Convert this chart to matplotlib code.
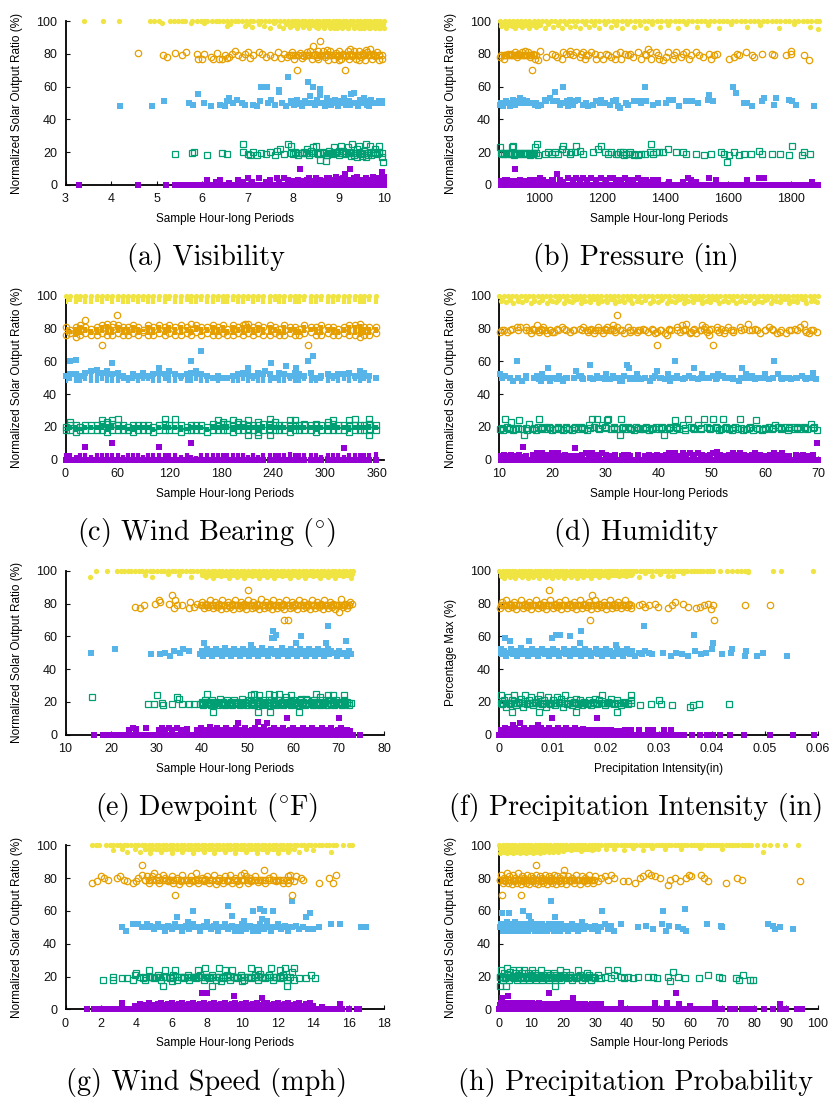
import matplotlib
matplotlib.use('Agg')
import matplotlib.pyplot as plt

plt.rcParams['font.family'] = ['Liberation Sans', 'DejaVu Sans']
plt.rcParams['mathtext.fontset'] = 'cm'

PURPLE = '#9400d3'
GREEN = '#009e73'
BLUE = '#56b4e9'
ORANGE = '#e69f00'
YELLOW = '#f0e442'

# typical centre of each band where the readings pile up
BAND_Y = {'purple': 2.5, 'green': 19.5, 'blue': 50, 'orange': 79, 'yellow': 97.5}

# ---------------- (a) Visibility ----------------
a_yellow_top_x = [3.40, 3.83, 4.18, 4.86, 4.95, 5.06, 5.30, 5.38, 5.47, 5.56, 5.62, 5.78, 5.88, 5.97, 6.04,
                  6.12, 6.21, 6.30, 6.38, 6.47, 6.55, 6.63, 6.72, 6.80, 6.88, 6.97, 7.05, 7.13, 7.22, 7.30,
                  7.38, 7.47, 7.55, 7.63, 7.72, 7.80, 7.88, 7.97, 8.05, 8.12, 8.20, 8.27, 8.35, 8.42, 8.50,
                  8.57, 8.65, 8.72, 8.80, 8.87, 8.95, 9.02, 9.10, 9.17, 9.25, 9.32, 9.40, 9.47, 9.55, 9.62,
                  9.70, 9.77, 9.85, 9.92, 10.0]
a_band_x = [7.96, 8.04, 8.12, 8.2, 8.28, 8.36, 8.44, 8.52, 8.6, 8.68, 8.76, 8.84, 8.92, 9.0, 9.08, 9.16,
            9.24, 9.32, 9.4, 9.48, 9.56, 9.64, 9.72, 9.8, 9.88, 9.96]
a_yellow = [(5.12, 99), (5.75, 99), (6.05, 98.5), (6.55, 97), (6.62, 98), (6.95, 97), (7.0, 98), (7.1, 96.5),
            (7.25, 98), (7.36, 97), (7.5, 96), (7.58, 98.5), (7.7, 97), (7.78, 96), (7.85, 98), (7.93, 96.5),
            (8.0, 97.5), (8.08, 95.5), (8.15, 98), (8.22, 96.5), (8.3, 97.5), (8.36, 95.5), (8.43, 98),
            (8.5, 96.5), (8.55, 95.5), (8.62, 97.5), (8.68, 96), (8.75, 98), (8.82, 95.5), (8.9, 97),
            (8.97, 96), (9.03, 98), (9.08, 95.5), (9.14, 97), (9.2, 96), (9.27, 98), (9.33, 95.5), (9.38, 97),
            (9.44, 96), (9.5, 98), (9.56, 95.5), (9.62, 97), (9.68, 96), (9.74, 98), (9.8, 95.5), (9.86, 97),
            (9.92, 96), (9.97, 98), (10.0, 95.5), (9.9, 95.5), (9.7, 95.5), (9.5, 95.5), (9.2, 95.5), (8.9, 96)]
a_orange = [(4.6, 80.5), (5.15, 79), (5.22, 78), (5.4, 80.5), (5.55, 79), (5.65, 81), (5.9, 80), (5.92, 77),
            (6.0, 77), (6.05, 80), (6.2, 78), (6.25, 77), (6.32, 80.5), (6.38, 77), (6.45, 77), (6.5, 79),
            (6.55, 77.5), (6.6, 78), (6.65, 80), (6.72, 81.5), (6.8, 79), (6.88, 78), (6.95, 80), (7.02, 81),
            (7.05, 77.5), (7.12, 79), (7.25, 81), (7.32, 80), (7.4, 78), (7.5, 79), (7.58, 78), (7.68, 81),
            (7.74, 77.5), (7.8, 80), (7.86, 78), (7.92, 79.5), (7.98, 81), (8.02, 77), (8.08, 70), (8.1, 79),
            (8.15, 80.5), (8.2, 77.5), (8.25, 78.5), (8.3, 81), (8.33, 79), (8.38, 82), (8.42, 77), (8.45, 85),
            (8.48, 80), (8.52, 78), (8.56, 77), (8.6, 88), (8.62, 79.5), (8.66, 81.5), (8.7, 78), (8.74, 80),
            (8.78, 76.5), (8.82, 82), (8.86, 79), (8.9, 77), (8.94, 80.5), (8.98, 78.5), (9.02, 81.5),
            (9.06, 77), (9.1, 80), (9.14, 70), (9.16, 78.5), (9.2, 82), (9.23, 77), (9.27, 80), (9.3, 78.5),
            (9.34, 81.5), (9.38, 77), (9.42, 79.5), (9.46, 82), (9.5, 78), (9.54, 80.5), (9.58, 76.5),
            (9.62, 81), (9.66, 79), (9.7, 83), (9.73, 77), (9.76, 80), (9.8, 78.5), (9.84, 81), (9.88, 79),
            (9.9, 76), (9.95, 77), (8.0, 79), (8.55, 82), (9.0, 76.5), (9.45, 76), (9.6, 82.5), (8.75, 82.5),
            (9.25, 83)]
a_blue = [(4.2, 48), (4.9, 48), (5.17, 51), (5.72, 50), (5.8, 48.5), (5.92, 55.5), (6.05, 50), (6.2, 48),
          (6.4, 49), (6.5, 48), (6.55, 51), (6.6, 53), (6.68, 50), (6.78, 52), (6.88, 50), (6.95, 49),
          (7.12, 49), (7.2, 48), (7.28, 51), (7.3, 60), (7.42, 59.5), (7.45, 50), (7.52, 52), (7.6, 49),
          (7.7, 58), (7.7, 56.5), (7.76, 50), (7.84, 48), (7.9, 66), (7.95, 51), (8.02, 49), (8.08, 52),
          (8.15, 50), (8.2, 48), (8.26, 51), (8.34, 63), (8.38, 54), (8.44, 60), (8.48, 49), (8.52, 52),
          (8.6, 58.5), (8.6, 55), (8.64, 50), (8.7, 48), (8.74, 53), (8.79, 51), (8.84, 49), (8.88, 50.5),
          (8.93, 52), (8.98, 48), (9.03, 51), (9.08, 50), (9.12, 53), (9.17, 49), (9.22, 51), (9.28, 55.5),
          (9.35, 56), (9.38, 50), (9.43, 48), (9.48, 52), (9.53, 50), (9.58, 51), (9.63, 49), (9.68, 48),
          (9.72, 52), (9.88, 51), (9.95, 51), (8.1, 49.5), (8.55, 50), (9.0, 50), (9.25, 48.5), (9.55, 53)]
a_green = [(5.4, 19), (5.78, 19.5), (5.82, 20), (6.1, 18.5), (6.45, 19.5), (6.55, 19), (6.9, 25), (6.9, 20),
           (7.0, 19), (7.05, 18), (7.12, 20), (7.2, 18.5), (7.3, 19.5), (7.4, 19), (7.5, 20), (7.6, 18),
           (7.65, 21), (7.72, 22), (7.8, 19), (7.88, 25), (7.95, 24), (8.0, 19), (8.05, 20), (8.1, 18.5),
           (8.2, 19.5), (8.25, 20), (8.3, 22), (8.35, 18), (8.4, 21), (8.45, 23), (8.5, 24), (8.55, 19),
           (8.6, 15), (8.65, 20), (8.72, 14.5), (8.75, 18), (8.8, 21), (8.85, 19), (8.9, 23), (8.95, 20),
           (9.0, 18), (9.05, 24), (9.1, 21), (9.15, 19), (9.2, 23), (9.25, 20), (9.3, 25), (9.35, 18),
           (9.4, 22), (9.45, 24), (9.5, 19), (9.55, 21), (9.6, 25), (9.65, 18), (9.7, 24), (9.75, 20),
           (9.8, 22), (9.85, 19), (9.9, 24), (9.95, 17), (9.98, 14), (9.4, 17), (9.6, 17), (9.02, 20.5),
           (9.28, 17.5), (9.52, 17.5), (9.72, 18.5), (9.88, 20)]
a_purple_zero_x = [3.3, 4.6, 5.2, 5.4, 5.48, 5.56, 5.64, 5.72, 5.8, 5.88, 5.96, 6.04, 6.12, 6.2, 6.28, 6.36,
                   6.44, 6.52, 6.6, 6.68, 6.76, 6.84, 6.92, 7.0, 7.08, 7.16, 7.24, 7.32, 7.4, 7.48, 7.56, 7.64,
                   7.72, 7.8, 7.88, 7.96, 8.04, 8.12, 8.2, 8.28, 8.36, 8.44, 8.52, 8.6, 8.68, 8.76, 8.84, 8.92,
                   9.0, 9.08, 9.16, 9.24, 9.32, 9.4, 9.48, 9.56, 9.64, 9.72, 9.8, 9.88, 9.96, 10.0]
a_purple = [(6.1, 3), (6.3, 2), (6.4, 3), (6.6, 1.5), (6.8, 3), (6.9, 2), (7.0, 4), (7.1, 2), (7.25, 4),
            (7.4, 2), (7.5, 3), (7.65, 4), (7.7, 2), (7.8, 4), (7.9, 3), (8.0, 2), (8.1, 3), (8.15, 10),
            (8.3, 3), (8.35, 4), (8.4, 1.5), (8.45, 2), (8.5, 4), (8.6, 3), (8.7, 2), (8.8, 4), (8.85, 3),
            (8.9, 1.5), (8.95, 5), (9.0, 2), (9.1, 4), (9.15, 7), (9.2, 3), (9.25, 10), (9.3, 2), (9.35, 4),
            (9.4, 5), (9.45, 1.5), (9.5, 3), (9.55, 2), (9.6, 4), (9.7, 3), (9.75, 5), (9.8, 2), (9.85, 4),
            (9.9, 3), (9.95, 8), (9.96, 7), (10, 5), (10, 2), (8.55, 2.5), (8.75, 4.5), (9.05, 3.5),
            (9.65, 1.5), (9.92, 1.5)]

# ---------------- (b) Pressure ----------------
b_yellow_top_x = [877, 892, 905, 918, 930, 943, 957, 970, 983, 996, 1010, 1024, 1038, 1052, 1066, 1080, 1094,
                  1108, 1122, 1136, 1150, 1164, 1178, 1192, 1206, 1220, 1234, 1248, 1262, 1276, 1290, 1304,
                  1318, 1332, 1346, 1360, 1374, 1388, 1402, 1416, 1430, 1444, 1458, 1472, 1486, 1500, 1514,
                  1528, 1542, 1556, 1570, 1584, 1598, 1612, 1626, 1640, 1654, 1668, 1682, 1696, 1710, 1724,
                  1738, 1752, 1766, 1780, 1794, 1808, 1822, 1836, 1850, 1864, 1878, 1888]
b_band_x = [880, 888, 896, 904, 912, 920, 928, 936, 944, 952, 960, 968, 976, 984, 992]
b_yellow = [(880, 97), (888, 99), (897, 96), (905, 98), (915, 97), (925, 95.5), (935, 98), (945, 96.5),
            (955, 97.5), (968, 96), (980, 98), (992, 96.5), (1005, 97.5), (1018, 96), (1030, 98), (1045, 96.5),
            (1060, 97.5), (1072, 96), (1085, 98), (1100, 96.5), (1115, 97), (1130, 96), (1145, 98),
            (1160, 96.5), (1175, 97.5), (1192, 96), (1210, 98), (1228, 96.5), (1245, 97.5), (1262, 96),
            (1280, 98), (1300, 96.5), (1320, 97.5), (1340, 96), (1360, 98), (1385, 96.5), (1410, 97.5),
            (1440, 96), (1465, 98), (1500, 96.5), (1535, 97.5), (1570, 96), (1610, 98), (1660, 96.5),
            (1700, 97.5), (1760, 96), (1810, 98), (1860, 96.5), (1885, 95)]
b_orange = [(877, 78), (893, 79), (903, 80), (914, 79), (924, 81), (935, 80), (945, 81), (956, 82), (961, 79),
            (972, 78), (977, 70), (982, 80), (987, 77), (998, 76), (1003, 82), (1024, 78), (1040, 80),
            (1051, 79), (1056, 78), (1072, 77), (1077, 81), (1087, 80), (1098, 82), (1108, 79), (1119, 81),
            (1129, 78), (1135, 80), (1145, 77), (1156, 79), (1166, 81), (1177, 80), (1182, 77), (1193, 79),
            (1203, 77), (1214, 80), (1219, 79), (1229, 78), (1240, 77), (1245, 80), (1256, 81), (1261, 77),
            (1272, 80), (1282, 79), (1298, 78), (1314, 81), (1324, 77), (1335, 80), (1345, 83), (1351, 81),
            (1356, 77), (1372, 81), (1377, 79), (1382, 77), (1393, 76), (1403, 78), (1408, 81), (1424, 77),
            (1429, 79), (1435, 81), (1451, 78), (1456, 80), (1466, 81), (1477, 77), (1482, 79), (1498, 81),
            (1508, 79), (1519, 78), (1540, 80), (1545, 77), (1556, 79), (1566, 80), (1603, 77), (1619, 78),
            (1629, 80), (1635, 79), (1656, 81), (1677, 79), (1682, 78), (1708, 80), (1740, 80), (1745, 79),
            (1782, 79), (1798, 80), (1798, 82), (1840, 79), (1856, 76), (890, 77), (910, 80), (930, 78),
            (950, 79), (965, 81), (1100, 80), (1140, 81), (1150, 79), (1290, 80), (1340, 79)]
b_blue = [(877, 49), (887, 48), (896, 51), (903, 50), (908, 48), (919, 52), (924, 49), (929, 50), (940, 53),
          (961, 51), (972, 50), (987, 49), (998, 48), (1008, 49), (1019, 52), (1024, 51), (1035, 53),
          (1045, 51), (1051, 57), (1056, 51), (1066, 49), (1077, 60), (1077, 50), (1093, 48), (1098, 52),
          (1108, 49), (1114, 51), (1124, 52), (1140, 49), (1156, 48), (1172, 49), (1182, 51), (1193, 50),
          (1198, 52), (1208, 50), (1224, 49), (1235, 51), (1245, 52), (1251, 48), (1256, 47), (1277, 50),
          (1282, 49), (1303, 51), (1319, 51), (1324, 50), (1335, 60), (1340, 51), (1361, 49), (1377, 50),
          (1403, 50), (1414, 52), (1424, 52), (1445, 48), (1466, 51), (1487, 51), (1503, 50), (1535, 52),
          (1540, 55), (1551, 51), (1614, 60), (1624, 56), (1651, 50), (1661, 50), (1677, 48), (1708, 51),
          (1714, 53), (1745, 49), (1751, 53), (1793, 52), (1803, 51), (1814, 49), (1872, 48), (890, 50),
          (912, 49), (935, 51), (950, 52), (1090, 51), (1150, 50)]
b_green = [(877, 23), (882, 19), (903, 19), (914, 23), (919, 24), (929, 19), (940, 19), (951, 19), (972, 18),
           (982, 19), (987, 23), (993, 25), (998, 18), (1019, 19), (1029, 20), (1040, 19), (1051, 20),
           (1061, 19), (1072, 22), (1077, 24), (1087, 20), (1098, 19), (1103, 20), (1114, 20), (1119, 24),
           (1129, 21), (1140, 19), (1172, 20), (1187, 22), (1198, 24), (1208, 20), (1219, 19), (1229, 20),
           (1245, 19), (1256, 20), (1266, 20), (1277, 19), (1287, 19), (1303, 19), (1314, 18), (1324, 19),
           (1335, 19), (1351, 20), (1356, 25), (1361, 19), (1372, 20), (1382, 20), (1393, 20), (1408, 22),
           (1435, 20), (1456, 20), (1466, 19), (1498, 19), (1524, 18), (1545, 19), (1577, 20), (1587, 19),
           (1598, 14), (1603, 18), (1619, 20), (1635, 18), (1651, 19), (1672, 19), (1698, 21), (1708, 19),
           (1740, 19), (1766, 19), (1793, 18), (1803, 24), (1835, 18), (1840, 20), (1861, 19), (890, 19),
           (910, 19), (920, 18), (960, 19), (1250, 19), (1270, 18), (1290, 20), (1300, 18)]
b_purple_zero_x = [880, 894, 908, 922, 936, 950, 964, 978, 992, 1006, 1020, 1034, 1048, 1062, 1076, 1090, 1104,
                   1118, 1132, 1146, 1160, 1174, 1188, 1202, 1216, 1230, 1244, 1258, 1272, 1286, 1300, 1314,
                   1328, 1342, 1356, 1370, 1384, 1398, 1412, 1426, 1440, 1454, 1468, 1482, 1496, 1510, 1524,
                   1538, 1552, 1566, 1580, 1594, 1608, 1622, 1636, 1650, 1664, 1678, 1692, 1706, 1720, 1734,
                   1748, 1762, 1776, 1790, 1804, 1818, 1832, 1846, 1860, 1874, 1886]
b_purple = [(882, 2), (893, 3), (908, 2), (924, 10), (929, 2), (940, 3), (956, 2), (972, 3), (987, 3),
            (1003, 4), (1014, 3), (1024, 2), (1040, 3), (1045, 3), (1056, 7), (1066, 3), (1077, 2), (1093, 4),
            (1108, 3), (1119, 4), (1129, 3), (1140, 4), (1151, 3), (1166, 4), (1182, 3), (1198, 4), (1214, 3),
            (1224, 4), (1235, 4), (1245, 3), (1256, 3), (1272, 4), (1282, 3), (1298, 3), (1314, 4), (1324, 3),
            (1340, 3), (1351, 2), (1361, 3), (1377, 3), (1414, 2), (1456, 2), (1472, 4), (1482, 3), (1498, 2),
            (1540, 4), (1561, 3), (1661, 3), (1698, 4), (1714, 4), (1866, 2), (890, 1.5), (900, 3),
            (915, 1.5), (950, 1.5), (1000, 1.5), (1260, 1.5)]

# ---------------- (c) Wind Bearing: readings fall in bearing columns ----------------
c_cols = [1, 5, 12, 17, 23, 29, 36, 42, 48, 54,
          61, 67, 72, 78, 84, 90, 95, 101, 108, 115,
          120, 126, 134, 140, 145, 151, 157, 163, 170, 176,
          182, 187, 193, 199, 205, 211, 217, 222, 228, 236,
          242, 247, 253, 259, 265, 270, 276, 284, 290, 295,
          303, 309, 315, 322, 328, 334, 340, 345, 351, 359]
c_yellow_lo = [95, 96, 95, 96, 95, 95, 96, 95, 97, 95,
               96, 95, 95, 96, 95, 96, 95, 95, 96, 95,
               97, 95, 95, 96, 95, 95, 96, 95, 95, 96,
               95, 95, 96, 95, 95, 97, 95, 96, 95, 95,
               96, 95, 95, 96, 95, 95, 96, 95, 95, 96,
               95, 95, 96, 95, 95, 96, 95, 95, 96, 95]
c_orange_lo = [76, 77, 75, 76, 77, 76, 76, 77, 76, 76,
               77, 76, 76, 77, 76, 78, 76, 76, 77, 76,
               77, 76, 76, 77, 76, 78, 76, 77, 76, 76,
               77, 76, 76, 77, 76, 77, 76, 77, 76, 76,
               77, 76, 76, 77, 76, 76, 77, 78, 76, 76,
               77, 76, 76, 77, 76, 76, 75, 76, 76, 77]
c_orange_hi = [81, 79, 81, 82, 81, 80, 81, 82, 83, 81,
               82, 81, 81, 82, 81, 79, 82, 81, 82, 81,
               82, 81, 82, 81, 80, 82, 81, 81, 82, 81,
               82, 80, 82, 81, 82, 83, 81, 82, 81, 82,
               81, 80, 82, 81, 81, 80, 82, 81, 81, 82,
               81, 81, 80, 81, 82, 82, 83, 81, 81, 81]
c_blue_lo = [47, 48, 47, 47, 48, 47, 47, 48, 47, 47,
             47, 48, 47, 48, 47, 48, 48, 47, 47, 48,
             47, 47, 48, 47, 47, 48, 47, 47, 48, 47,
             48, 48, 47, 47, 48, 47, 48, 47, 47, 47,
             48, 47, 47, 48, 47, 47, 48, 47, 47, 48,
             47, 48, 47, 48, 47, 48, 47, 48, 47, 48]
c_blue_hi = [51, 52, 52, 51, 53, 54, 55, 53, 54, 52,
             53, 51, 50, 52, 51, 53, 51, 52, 53, 52,
             54, 52, 51, 52, 53, 54, 52, 51, 50, 51,
             50, 50, 51, 52, 53, 52, 51, 53, 52, 52,
             50, 53, 52, 51, 53, 52, 51, 53, 50, 51,
             52, 51, 52, 52, 53, 51, 54, 53, 51, 50]
c_green_lo = [18, 18, 17, 18, 18, 18, 18, 18, 17, 18,
              18, 18, 18, 17, 18, 18, 18, 17, 18, 18,
              18, 18, 17, 18, 18, 18, 18, 17, 18, 18,
              18, 18, 17, 18, 18, 18, 18, 17, 18, 18,
              18, 18, 18, 17, 18, 18, 18, 18, 17, 18,
              18, 18, 18, 18, 17, 18, 18, 18, 18, 18]
c_green_hi = [20, 21, 21, 20, 21, 21, 21, 22, 22, 22,
              21, 21, 20, 21, 21, 21, 21, 20, 21, 22,
              21, 21, 21, 20, 21, 21, 21, 20, 22, 21,
              22, 22, 21, 22, 22, 21, 21, 21, 22, 22,
              21, 21, 21, 21, 21, 21, 21, 21, 21, 21,
              21, 22, 21, 21, 21, 21, 21, 21, 22, 21]
c_purple_hi = [4, 4, 3, 4, 4, 3, 4, 4, 4, 4,
               4, 3, 4, 4, 4, 3, 4, 4, 4, 4,
               4, 4, 3, 4, 3, 2, 4, 4, 4, 4,
               4, 4, 4, 4, 4, 3, 4, 3, 4, 4,
               4, 4, 4, 5, 4, 4, 4, 4, 4, 3,
               4, 4, 4, 3, 4, 4, 4, 4, 4, 5]
c_orange = [(42, 70), (280, 70), (60, 88), (23, 85), (55, 83), (145, 83), (207, 83)]
c_blue = [(5, 60), (12, 61), (54, 59), (108, 56), (145, 60), (157, 66), (211, 56), (230, 54), (238, 59),
          (255, 57), (266, 56), (280, 60), (286, 63)]
c_green = [(5, 23), (42, 24), (48, 23), (54, 24), (61, 25), (115, 25), (126, 25), (176, 24), (182, 23),
           (187, 22), (193, 24), (199, 23), (205, 22), (211, 24), (222, 23), (236, 25), (242, 23), (259, 24),
           (265, 24), (276, 22), (290, 22), (303, 23), (309, 24), (328, 24), (334, 25), (351, 25), (351, 22),
           (211, 15), (222, 15), (236, 15), (351, 15)]
c_purple = [(23, 8), (54, 10), (108, 8), (145, 10), (322, 7)]

# ---------------- (d) Humidity ----------------
d_yellow_top_x = [10.0, 10.8, 11.6, 12.4, 13.2, 14.0, 14.8, 15.6, 16.4, 17.2, 18.0, 18.8, 19.6, 20.4, 21.2,
                  22.0, 22.8, 23.6, 24.4, 25.2, 26.0, 26.8, 27.6, 28.4, 29.2, 30.0, 30.8, 31.6, 32.4, 33.2,
                  34.0, 34.8, 35.6, 36.4, 37.2, 38.0, 38.8, 39.6, 40.4, 41.2, 42.0, 42.8, 43.6, 44.4, 45.2,
                  46.0, 46.8, 47.6, 48.4, 49.2, 50.0, 50.8, 51.6, 52.4, 53.2, 54.0, 54.8, 55.6, 56.4, 57.2,
                  58.0, 58.8, 59.6, 60.4, 61.2, 62.0, 62.8, 63.6, 64.4, 65.2, 66.0, 66.8, 67.6, 68.4, 69.2,
                  70.0]
d_band_x = [10.5, 12.0, 13.5, 15.0, 16.5, 18.0, 19.5, 21.0, 22.5, 24.0, 25.5, 27.0, 28.5, 30.0, 31.5, 33.0,
            34.5, 36.0, 37.5, 39.0, 40.5, 42.0, 43.5, 45.0, 46.5, 48.0, 49.5, 51.0, 52.5, 54.0, 55.5, 57.0,
            58.5, 60.0, 61.5, 63.0, 64.5, 66.0, 67.5, 69.0]
d_yellow = [(10.3, 97), (11.2, 96), (11.9, 98), (12.6, 95.5), (13.4, 97), (14.3, 96), (15.0, 98),
            (15.9, 95.5), (16.5, 97), (17.4, 96), (18.1, 98), (18.9, 95.5), (19.8, 97), (20.6, 96), (21.3, 98),
            (22.2, 95.5), (23.0, 97), (23.7, 96), (24.6, 98), (25.4, 95.5), (26.1, 97), (27.0, 96), (27.8, 98),
            (28.5, 95.5), (29.4, 97), (30.2, 96), (31.0, 98), (31.8, 95.5), (32.6, 97), (33.5, 96), (34.2, 98),
            (35.0, 95.5), (35.9, 97), (36.6, 96), (37.5, 98), (38.3, 95.5), (39.0, 97), (39.9, 96), (40.7, 98),
            (41.5, 95.5), (42.3, 97), (43.1, 96), (44.0, 98), (44.8, 95.5), (45.6, 97), (46.4, 96), (47.2, 98),
            (48.1, 95.5), (48.9, 97), (49.7, 96), (50.5, 98), (51.3, 95.5), (52.1, 97), (53.0, 96), (53.8, 98),
            (54.6, 95.5), (55.4, 97), (56.2, 96), (57.1, 98), (57.9, 95.5), (58.7, 97), (59.5, 96), (60.4, 98),
            (61.2, 95.5), (62.0, 97), (62.8, 96), (63.7, 98), (64.5, 95.5), (65.3, 97), (66.1, 96), (67.0, 98),
            (67.8, 95.5), (68.6, 97), (69.5, 96.5), (69.8, 96)]
d_orange = [(10.1, 78), (10.8, 79), (11.5, 78), (12.3, 80), (13.3, 81), (13.9, 81), (15.0, 81), (15.5, 79),
            (15.9, 77), (16.4, 80), (17.0, 82), (17.5, 78), (17.8, 80), (18.2, 81), (18.6, 79), (18.9, 77),
            (19.5, 79), (19.8, 78), (20.8, 80), (21.7, 81), (22.2, 80), (23.3, 78), (23.8, 79), (25.2, 80),
            (25.8, 81), (26.4, 79), (26.7, 78), (27.2, 80), (27.8, 77), (28.6, 81), (29.2, 79), (29.9, 80),
            (30.3, 81), (30.8, 79), (31.1, 80), (31.8, 78), (32.1, 88), (32.2, 81), (32.7, 79), (33.4, 77),
            (34.3, 81), (34.6, 78), (35.2, 79), (35.9, 78), (36.5, 79), (37.1, 80), (38.0, 78), (38.7, 80),
            (39.3, 77), (39.7, 70), (39.7, 78), (40.3, 79), (41.2, 77), (41.6, 76), (42.0, 80), (42.4, 79),
            (43.4, 81), (44.0, 78), (44.3, 82), (44.9, 80), (45.2, 83), (46.0, 78), (46.6, 80), (47.0, 77),
            (47.7, 79), (48.2, 82), (48.5, 80), (49.0, 78), (49.5, 76), (49.9, 80), (50.3, 70), (50.9, 81),
            (51.4, 78), (51.8, 80), (52.3, 77), (53.1, 81), (53.7, 79), (54.0, 78), (55.3, 81), (56.0, 80),
            (56.8, 83), (57.5, 79), (58.1, 80), (59.0, 77), (60.0, 79), (60.8, 81), (61.4, 80), (62.2, 77),
            (62.8, 78), (64.0, 77), (65.0, 79), (65.6, 80), (66.6, 81), (67.3, 83), (67.8, 78), (68.3, 77),
            (68.7, 79), (69.8, 78), (17.3, 79), (20.2, 78), (28.0, 79), (29.5, 77), (31.4, 82), (44.6, 79),
            (45.8, 77), (48.8, 81)]
d_blue = [(10.1, 52), (11.1, 51), (12.0, 50), (12.6, 48), (13.3, 60), (14.2, 48), (15.0, 51), (17.0, 51),
          (17.5, 49), (18.0, 52), (18.4, 50), (19.1, 56), (19.5, 48), (20.2, 50), (20.8, 49), (21.3, 51),
          (22.0, 48), (22.7, 50), (24.4, 54), (25.0, 51), (25.8, 49), (27.1, 58), (27.7, 49), (28.3, 51),
          (29.2, 50), (30.1, 52), (30.8, 49), (31.4, 51), (31.9, 50), (32.7, 48), (33.4, 51), (34.0, 58),
          (34.4, 56), (34.5, 49), (35.2, 50), (35.9, 52), (36.6, 49), (37.4, 50), (38.3, 48), (39.3, 51),
          (39.7, 54), (40.3, 50), (41.2, 49), (41.8, 52), (42.6, 50), (43.0, 60), (43.5, 51), (44.6, 49),
          (45.7, 51), (46.6, 56), (47.4, 49), (48.2, 52), (49.1, 50), (50.3, 51), (51.2, 52), (52.1, 51),
          (53.1, 50), (54.0, 49), (55.1, 48), (55.6, 56), (56.5, 52), (57.5, 51), (58.1, 49), (59.0, 50),
          (60.0, 52), (60.8, 49), (61.5, 50), (61.8, 60), (62.5, 52), (64.0, 50), (65.0, 49), (65.9, 50),
          (66.9, 51), (67.8, 49), (69.1, 53), (69.7, 49), (17.8, 48), (21.6, 49), (25.4, 51), (29.8, 49),
          (33.0, 48), (35.6, 49), (38.8, 50), (42.2, 48), (46.2, 50), (50.8, 49), (56.0, 50), (63.2, 49),
          (68.5, 50)]
d_green = [(10.1, 19), (10.6, 18), (11.0, 25), (11.4, 20), (11.8, 19), (12.2, 23), (12.6, 18), (13.0, 19),
           (13.7, 24), (14.2, 19), (14.7, 15), (15.2, 18), (15.6, 22), (16.2, 19), (16.8, 18), (17.5, 25),
           (17.3, 20), (17.9, 19), (18.4, 20), (18.9, 19), (19.4, 20), (19.9, 18), (20.5, 19), (21.0, 20),
           (21.5, 19), (22.0, 18), (22.6, 20), (23.1, 19), (23.6, 18), (24.2, 20), (24.7, 19), (25.3, 20),
           (25.9, 19), (26.4, 18), (26.9, 21), (27.4, 25), (27.8, 20), (28.3, 25), (28.8, 19), (29.3, 21),
           (29.8, 20), (30.3, 24), (30.5, 25), (31.0, 19), (31.5, 20), (32.1, 19), (32.7, 15), (32.9, 25),
           (33.2, 20), (33.7, 19), (34.2, 20), (34.7, 19), (35.3, 18), (35.8, 20), (36.4, 19), (37.0, 19),
           (37.6, 20), (38.2, 18), (38.8, 19), (39.4, 20), (40.0, 19), (40.6, 20), (41.0, 15), (41.5, 19),
           (42.1, 20), (42.7, 18), (43.0, 24), (43.3, 20), (43.9, 19), (44.5, 21), (45.0, 18), (45.5, 25),
           (46.1, 20), (46.7, 19), (47.3, 21), (47.9, 19), (48.6, 25), (49.0, 20), (49.6, 19), (50.3, 25),
           (50.8, 20), (51.3, 18), (51.8, 19), (52.1, 25), (52.6, 20), (53.2, 19), (53.8, 18), (54.4, 20),
           (55.0, 19), (55.4, 25), (55.9, 18), (56.5, 19), (57.1, 20), (57.7, 18), (58.4, 24), (58.9, 19),
           (59.5, 18), (60.1, 19), (60.7, 20), (61.3, 19), (61.9, 21), (62.5, 20), (63.1, 19), (63.7, 20),
           (64.3, 18), (64.9, 20), (65.5, 19), (66.1, 20), (66.7, 19), (67.3, 20), (67.9, 19), (68.6, 22),
           (69.2, 20), (69.8, 18)]
d_purple_zero_x = [10.2, 11.0, 11.8, 12.6, 13.4, 14.2, 15.0, 15.8, 16.6, 17.4, 18.2, 19.0, 19.8, 20.6, 21.4,
                   22.2, 23.0, 23.8, 24.6, 25.4, 26.2, 27.0, 27.8, 28.6, 29.4, 30.2, 31.0, 31.8, 32.6, 33.4,
                   34.2, 35.0, 35.8, 36.6, 37.4, 38.2, 39.0, 39.8, 40.6, 41.4, 42.2, 43.0, 43.8, 44.6, 45.4,
                   46.2, 47.0, 47.8, 48.6, 49.4, 50.2, 51.0, 51.8, 52.6, 53.4, 54.2, 55.0, 55.8, 56.6, 57.4,
                   58.2, 59.0, 59.8, 60.6, 61.4, 62.2, 63.0, 63.8, 64.6, 65.4, 66.2, 67.0, 67.8, 68.6, 69.4,
                   70.0]
d_purple = [(10.2, 2), (10.9, 3), (11.5, 1.5), (12.1, 3), (12.8, 2), (13.6, 3), (14.3, 1.5), (14.5, 8),
            (15.0, 2), (16.4, 3), (17.0, 4), (17.6, 3), (18.1, 4), (18.7, 3), (19.3, 2), (19.9, 4), (20.5, 3),
            (21.1, 4), (21.7, 2), (22.3, 3), (23.0, 2), (24.2, 7), (24.8, 2), (25.6, 3), (26.3, 4), (26.9, 3),
            (27.5, 4), (28.1, 3), (28.8, 2), (29.4, 4), (30.1, 3), (31.0, 2), (31.8, 3), (33.5, 3), (34.2, 3),
            (36.0, 3), (37.4, 2), (38.2, 3), (38.9, 2), (39.6, 3), (41.3, 3), (41.9, 4), (42.5, 3), (43.1, 4),
            (43.8, 2), (44.5, 4), (45.2, 3), (45.9, 4), (46.6, 3), (47.4, 4), (48.1, 3), (48.8, 2), (49.7, 3),
            (50.3, 4), (50.9, 5), (51.6, 3), (52.3, 2), (53.2, 3), (54.0, 4), (54.7, 3), (55.4, 4), (56.1, 3),
            (56.8, 2), (57.5, 3), (58.2, 4), (59.0, 3), (60.0, 2), (61.0, 3), (61.8, 4), (62.5, 3), (63.2, 4),
            (64.2, 2), (65.8, 3), (66.4, 2), (67.1, 3), (68.2, 2), (69.0, 3), (69.8, 10)]

# ---------------- (e) Dewpoint ----------------
e_yellow_top_x = [16.6, 19.2, 21.3, 22.1, 22.9, 23.7, 24.5, 25.3, 26.1, 26.9, 27.7, 28.5, 29.3, 30.1, 30.9,
                  31.7, 32.5, 33.3, 34.1, 34.9, 35.7, 36.5, 37.3, 38.1, 38.9, 39.7, 40.5, 41.3, 42.1, 42.9,
                  43.7, 44.5, 45.3, 46.1, 46.9, 47.7, 48.5, 49.3, 50.1, 50.9, 51.7, 52.5, 53.3, 54.1, 54.9,
                  55.7, 56.5, 57.3, 58.1, 58.9, 59.7, 60.5, 61.3, 62.1, 62.9, 63.7, 64.5, 65.3, 66.1, 66.9,
                  67.7, 68.5, 69.3, 70.1, 70.9, 71.7, 72.5, 73.1]
e_band_x = [40.0, 40.6, 41.2, 41.8, 42.4, 43.0, 43.6, 44.2, 44.8, 45.4, 46.0, 46.6, 47.2, 47.8, 48.4, 49.0,
            49.6, 50.2, 50.8, 51.4, 52.0, 52.6, 53.2, 53.8, 54.4, 55.0, 55.6, 56.2, 56.8, 57.4, 58.0, 58.6,
            59.2, 59.8, 60.4, 61.0, 61.6, 62.2, 62.8, 63.4, 64.0, 64.6, 65.2, 65.8, 66.4, 67.0, 67.6, 68.2,
            68.8, 69.4, 70.0, 70.6, 71.2, 71.8, 72.4]
e_yellow = [(15.4, 96), (27.5, 97.5), (29.0, 96), (32.5, 98), (35.0, 97.5), (37.5, 96), (40.0, 98), (40.8, 96),
            (41.7, 97.5), (42.5, 95.5), (43.4, 98), (44.2, 96.5), (45.0, 97.5), (45.9, 95.5), (46.7, 98),
            (47.6, 96), (48.4, 97.5), (49.2, 95.5), (50.1, 98), (50.9, 96.5), (51.8, 97.5), (52.6, 95.5),
            (53.4, 98), (54.3, 96), (55.1, 97.5), (55.9, 95.5), (56.8, 98), (57.6, 96.5), (58.5, 97.5),
            (59.3, 95.5), (60.1, 98), (61.0, 96), (61.8, 97.5), (62.6, 95.5), (63.5, 98), (64.3, 96.5),
            (65.2, 97.5), (66.0, 95.5), (66.8, 98), (67.7, 96), (68.5, 97.5), (69.3, 95.5), (70.2, 98),
            (71.0, 96.5), (71.9, 97.5), (72.7, 95.5), (73.0, 98)]
e_orange = [(25.3, 78), (26.4, 77), (27.3, 79), (29.7, 80), (30.5, 82), (30.8, 81), (32.7, 80), (33.4, 85),
            (33.8, 77), (34.1, 82), (34.5, 79), (35.6, 79), (37.1, 77), (37.4, 81), (38.2, 78), (38.9, 80),
            (39.7, 79), (40.1, 81), (40.5, 77), (40.9, 80), (41.3, 78), (41.7, 82), (42.1, 79), (42.5, 77),
            (42.9, 81), (43.3, 78), (43.7, 80), (44.1, 76.5), (44.5, 82), (44.9, 79), (45.3, 77), (45.7, 81),
            (46.1, 78), (46.5, 80), (46.9, 76.5), (47.3, 82), (47.7, 79), (48.1, 77), (48.5, 81), (48.9, 78),
            (49.3, 80), (49.7, 76.5), (50.0, 88), (50.1, 82), (50.5, 79), (50.9, 77), (51.3, 81), (51.7, 78),
            (52.1, 80), (52.5, 76.5), (52.9, 83), (53.3, 79), (53.7, 77), (54.1, 81), (54.5, 78), (54.9, 80),
            (55.3, 76.5), (55.7, 82), (56.1, 79), (56.5, 77), (56.9, 81), (57.3, 78), (57.7, 80), (58.0, 70),
            (58.1, 76.5), (58.5, 82), (58.8, 70), (58.9, 79), (59.3, 77), (59.7, 81), (60.1, 78), (60.5, 80),
            (60.9, 76.5), (61.3, 82), (61.7, 79), (62.1, 77), (62.5, 81), (62.9, 78), (63.3, 80), (63.7, 76.5),
            (64.1, 82), (64.5, 79), (64.9, 77), (65.3, 81), (65.7, 78), (66.1, 80), (66.5, 76.5), (66.9, 82),
            (67.3, 79), (67.7, 77), (68.1, 81), (68.5, 78), (68.9, 80), (69.3, 76.5), (69.7, 79), (70.2, 75),
            (70.6, 83), (71.0, 78), (71.4, 80), (71.8, 77), (72.2, 79), (72.6, 81), (73.0, 80)]
e_blue = [(15.6, 50), (20.9, 52), (28.8, 49), (30.8, 49.5), (31.9, 50), (33.0, 48), (33.8, 51), (35.2, 50),
          (35.8, 52), (37.1, 51), (39.5, 49), (39.9, 51), (40.3, 48), (40.5, 56), (40.7, 50), (41.1, 52),
          (41.5, 49), (41.9, 51), (42.3, 48), (42.7, 50), (43.1, 52), (43.5, 49), (43.9, 51), (44.3, 48),
          (44.7, 50), (45.1, 53), (45.5, 49), (45.9, 51), (46.3, 48), (46.7, 50), (47.1, 52), (47.5, 49),
          (47.9, 51), (48.3, 48), (48.7, 50), (49.1, 52), (49.5, 49), (49.9, 51), (50.3, 48), (50.7, 55),
          (50.8, 50), (51.2, 52), (51.6, 49), (52.0, 51), (52.4, 48), (52.8, 50), (53.2, 53), (53.6, 49),
          (54.0, 51), (54.4, 48), (54.8, 50), (55.2, 52), (55.3, 59), (55.5, 63), (55.8, 59), (56.2, 61),
          (56.0, 49), (56.4, 51), (56.8, 48), (57.2, 50), (57.6, 53), (58.0, 49), (58.4, 51), (58.8, 48),
          (59.2, 50), (59.6, 52), (60.0, 49), (60.4, 51), (60.6, 56), (60.8, 48), (61.2, 50), (61.7, 60),
          (61.6, 52), (62.0, 49), (62.4, 51), (62.8, 48), (63.2, 50), (63.6, 52), (64.0, 49), (64.4, 51),
          (64.8, 48), (65.2, 50), (65.6, 52), (66.0, 49), (66.4, 51), (66.8, 48), (67.2, 56), (67.2, 50),
          (67.8, 66), (67.6, 52), (68.0, 49), (68.4, 51), (69.0, 50), (69.6, 48), (70.2, 51), (70.8, 49),
          (71.2, 50), (71.7, 57), (71.8, 48), (72.3, 51), (72.8, 49)]
e_green = [(15.9, 23), (28.2, 19), (29.4, 19), (30.2, 24), (31.2, 19.5), (31.4, 18), (33.4, 19), (34.5, 23),
           (34.9, 22), (35.6, 19), (37.1, 19), (38.2, 19), (39.5, 19), (39.9, 20), (40.3, 18), (40.7, 21),
           (41.1, 25), (41.1, 19), (41.5, 20), (41.9, 18), (42.3, 21), (42.5, 14), (42.7, 19), (43.1, 20),
           (43.5, 18), (43.9, 22), (44.3, 19), (44.7, 20), (45.1, 18), (45.5, 21), (45.9, 19), (46.3, 20),
           (46.7, 18), (47.1, 21), (47.5, 19), (47.9, 20), (48.3, 18), (48.7, 22), (49.1, 19), (49.5, 20),
           (49.9, 18), (50.3, 21), (50.7, 24), (50.7, 19), (51.1, 20), (51.4, 25), (51.5, 18), (51.9, 21),
           (52.3, 14), (52.3, 19), (52.5, 24), (52.7, 20), (53.1, 18), (53.5, 21), (53.9, 19), (54.3, 20),
           (54.7, 25), (54.7, 18), (55.0, 14), (55.1, 21), (55.5, 19), (55.8, 24), (55.9, 20), (56.3, 18),
           (56.9, 25), (56.7, 21), (57.1, 19), (57.5, 20), (57.9, 18), (58.4, 23), (58.3, 21), (58.7, 19),
           (59.1, 20), (59.5, 24), (59.5, 18), (59.9, 21), (60.3, 19), (60.7, 20), (61.1, 18), (61.4, 14),
           (61.5, 21), (61.7, 22), (61.9, 19), (62.3, 20), (62.8, 22), (62.7, 18), (63.1, 21), (63.5, 19),
           (63.9, 20), (64.3, 18), (64.7, 21), (65.0, 25), (65.1, 19), (65.5, 20), (66.0, 23), (65.9, 18),
           (66.3, 21), (66.7, 19), (67.1, 20), (67.6, 24), (67.5, 18), (67.9, 21), (68.3, 19), (68.7, 24),
           (68.7, 20), (69.1, 18), (69.5, 21), (69.9, 19), (70.3, 20), (70.7, 18), (71.3, 24), (71.1, 21),
           (71.5, 19), (71.9, 20), (72.3, 18), (72.7, 19.5)]
e_purple_zero_x = [16.3, 18.3, 19.1, 19.9, 20.7, 21.5, 22.3, 23.1, 23.9, 24.7, 25.5, 26.3, 27.1, 27.9, 28.7,
                   29.5, 30.3, 31.1, 31.9, 32.7, 33.5, 34.3, 35.1, 35.9, 36.7, 37.5, 38.3, 39.1, 39.9, 40.7,
                   41.5, 42.3, 43.1, 43.9, 44.7, 45.5, 46.3, 47.1, 47.9, 48.7, 49.5, 50.3, 51.1, 51.9, 52.7,
                   53.5, 54.3, 55.1, 55.9, 56.7, 57.5, 58.3, 59.1, 59.9, 60.7, 61.5, 62.3, 63.1, 63.9, 64.7,
                   65.5, 66.3, 67.1, 67.9, 68.7, 69.5, 70.3, 71.1, 71.9, 72.7, 73.1, 74.8]
e_purple = [(23.9, 3), (24.8, 4), (25.5, 3.5), (27.8, 4), (30.5, 3), (31.2, 4), (31.9, 3), (32.7, 4),
            (33.5, 3), (34.6, 4), (35.4, 3), (36.8, 3.5), (39.0, 3), (39.7, 4), (40.4, 2), (41.1, 3), (41.8, 5),
            (42.5, 3), (43.2, 4), (43.9, 2), (44.6, 3), (45.3, 4), (46.0, 2), (46.7, 3), (47.4, 4), (47.9, 7),
            (48.1, 2), (48.8, 3), (49.5, 4), (50.2, 2), (50.9, 3), (51.6, 4), (52.3, 2), (52.3, 8), (53.0, 3),
            (53.7, 5), (54.2, 7), (54.4, 2), (55.1, 3), (55.8, 4), (56.5, 2), (57.2, 3), (57.9, 4), (58.6, 10),
            (58.6, 2), (59.3, 3), (60.0, 4), (60.7, 2), (61.4, 3), (62.1, 4), (62.8, 2), (63.5, 3), (64.2, 4),
            (64.9, 2), (65.6, 3), (66.3, 4), (67.0, 2), (67.7, 3), (68.4, 4), (69.1, 2), (70.0, 10), (69.8, 3),
            (70.5, 4), (71.2, 2), (71.9, 3), (72.6, 2.5)]

# ---------------- (f) Precipitation Intensity ----------------
f_yellow_top_x = [0, 0.0006, 0.0012, 0.0018, 0.0024, 0.003, 0.0036, 0.0042, 0.0048, 0.0054, 0.006, 0.0066,
                  0.0072, 0.0078, 0.0084, 0.009, 0.0096, 0.0102, 0.0108, 0.0114, 0.012, 0.0126, 0.0132, 0.0138,
                  0.0144, 0.015, 0.0156, 0.0162, 0.0168, 0.0174, 0.018, 0.0186, 0.0192, 0.0198, 0.0204, 0.021,
                  0.0216, 0.0222, 0.0228, 0.0234, 0.024, 0.0246, 0.0252, 0.0258, 0.0264, 0.027, 0.0276, 0.0282,
                  0.0288, 0.0294, 0.03, 0.0306, 0.0312, 0.0318, 0.0324, 0.033, 0.0336, 0.0342, 0.0348, 0.0354,
                  0.036, 0.0366, 0.0372, 0.0378, 0.0384, 0.039, 0.0396, 0.0402, 0.0415, 0.0428, 0.0438, 0.0447,
                  0.0455, 0.0462, 0.0468, 0.0515, 0.0531, 0.059]
f_band_x = [0.0002, 0.0007, 0.0012, 0.0017, 0.0022, 0.0027, 0.0032, 0.0037, 0.0042, 0.0047, 0.0052, 0.0057,
            0.0062, 0.0067, 0.0072, 0.0077, 0.0082, 0.0087, 0.0092, 0.0097, 0.0102, 0.0107, 0.0112, 0.0117,
            0.0122, 0.0127, 0.0132, 0.0137, 0.0142, 0.0147, 0.0152, 0.0157, 0.0162, 0.0167, 0.0172, 0.0177,
            0.0182, 0.0187, 0.0192, 0.0197, 0.0202, 0.0207, 0.0212, 0.0217, 0.0222, 0.0227, 0.0232, 0.0237,
            0.0242, 0.0247]
f_yellow = [(0.0003, 97), (0.0008, 95.5), (0.0014, 98), (0.0019, 96), (0.0025, 97.5), (0.003, 95.5),
            (0.0036, 98), (0.0042, 96), (0.0047, 97.5), (0.0053, 95.5), (0.0058, 98), (0.0064, 96),
            (0.007, 97.5), (0.0075, 95.5), (0.0081, 98), (0.0087, 96), (0.0092, 97.5), (0.0098, 95.5),
            (0.0104, 98), (0.011, 96), (0.0116, 97.5), (0.0122, 95.5), (0.0128, 98), (0.0134, 96),
            (0.014, 97.5), (0.0146, 95.5), (0.0152, 98), (0.0158, 96), (0.0165, 97.5), (0.0172, 95.5),
            (0.018, 98), (0.0188, 96), (0.0196, 97.5), (0.0205, 96), (0.0215, 98), (0.0226, 96.5),
            (0.0238, 97), (0.025, 98), (0.0262, 96), (0.0275, 98.5), (0.0288, 97), (0.0302, 98),
            (0.0318, 97), (0.0326, 97), (0.0345, 98.5), (0.0468, 99)]
f_orange = [(0.0001, 77), (0.0005, 81), (0.0009, 79), (0.0013, 82), (0.0016, 77), (0.002, 80), (0.0024, 78),
            (0.0028, 81), (0.0032, 76.5), (0.0036, 79), (0.004, 82), (0.0044, 77), (0.0048, 80), (0.0052, 78),
            (0.0056, 81), (0.006, 76.5), (0.0064, 79), (0.0068, 82), (0.0072, 77), (0.0076, 80), (0.008, 78),
            (0.0084, 81), (0.0088, 76.5), (0.0093, 88), (0.0092, 79), (0.0096, 82), (0.01, 77), (0.0104, 80),
            (0.0108, 78), (0.0112, 81), (0.0116, 76.5), (0.012, 79), (0.0124, 82), (0.0128, 77), (0.0132, 80),
            (0.0136, 78), (0.014, 81), (0.0144, 76.5), (0.0148, 79), (0.0152, 82), (0.0156, 77), (0.016, 80),
            (0.0164, 78), (0.017, 70), (0.0168, 81), (0.0172, 76.5), (0.0175, 85), (0.0176, 79), (0.018, 82),
            (0.0184, 77), (0.0188, 80), (0.0192, 78), (0.0196, 81), (0.02, 76.5), (0.0204, 79), (0.0208, 82),
            (0.0212, 77), (0.0216, 80), (0.022, 78), (0.0224, 81), (0.0228, 77), (0.0232, 79), (0.0236, 82),
            (0.024, 78), (0.0244, 80), (0.0248, 77), (0.0262, 79), (0.0268, 80), (0.0275, 78), (0.0282, 79),
            (0.0292, 80), (0.0298, 78), (0.0318, 77), (0.0325, 79), (0.033, 81), (0.0345, 80), (0.0355, 78),
            (0.037, 77), (0.0378, 78), (0.0385, 79), (0.0392, 80), (0.0398, 76.5), (0.0402, 79), (0.0404, 70),
            (0.0462, 79), (0.051, 79)]
f_blue = [(0.0002, 52), (0.001, 59), (0.002, 57), (0.0005, 49), (0.0009, 51), (0.0013, 48), (0.0017, 50),
          (0.0021, 52), (0.0025, 49), (0.0029, 51), (0.0033, 48), (0.0037, 50), (0.0041, 53), (0.0045, 49),
          (0.0049, 51), (0.0053, 48), (0.0055, 57), (0.0057, 50), (0.0061, 52), (0.0065, 49), (0.0069, 51),
          (0.0073, 48), (0.0077, 50), (0.0081, 52), (0.0085, 49), (0.0089, 51), (0.0093, 48), (0.0097, 50),
          (0.0099, 59), (0.0101, 52), (0.0105, 49), (0.0107, 61), (0.0109, 51), (0.0113, 48), (0.0114, 61),
          (0.0117, 50), (0.0121, 52), (0.0125, 49), (0.0129, 51), (0.0133, 60), (0.0133, 48), (0.0137, 50),
          (0.0141, 52), (0.0145, 49), (0.0149, 51), (0.0151, 56), (0.0154, 63), (0.0153, 48), (0.0157, 50),
          (0.0161, 52), (0.0165, 49), (0.0169, 51), (0.0173, 48), (0.0177, 50), (0.0181, 52), (0.0185, 49),
          (0.0189, 51), (0.0193, 48), (0.0197, 50), (0.0201, 52), (0.0205, 49), (0.0209, 51), (0.0213, 48),
          (0.0217, 50), (0.022, 55), (0.0221, 52), (0.0225, 49), (0.0229, 51), (0.0233, 48), (0.0237, 50),
          (0.0241, 52), (0.0245, 49), (0.025, 51), (0.0256, 48), (0.0262, 50), (0.0268, 49), (0.0273, 66),
          (0.0275, 51), (0.0282, 50), (0.0288, 49), (0.0308, 50), (0.0324, 48), (0.0333, 50), (0.0343, 49),
          (0.0356, 48), (0.0367, 61), (0.0369, 51), (0.038, 49), (0.0389, 50), (0.0402, 56), (0.04, 52),
          (0.0419, 49), (0.0436, 50), (0.0438, 52), (0.0462, 48), (0.0464, 51), (0.0485, 48), (0.0497, 50),
          (0.0542, 48)]
f_green = [(0.0002, 24), (0.0004, 19), (0.0008, 21), (0.0012, 17), (0.0016, 23), (0.002, 19), (0.0023, 14),
           (0.0024, 21), (0.0028, 24), (0.0032, 18), (0.0036, 20), (0.004, 22), (0.0044, 17), (0.0048, 24),
           (0.0052, 19), (0.0056, 21), (0.006, 23), (0.0064, 18), (0.0068, 20), (0.0074, 14), (0.0072, 22),
           (0.0076, 24), (0.008, 19), (0.0084, 21), (0.0088, 17), (0.0092, 23), (0.0096, 19), (0.01, 21),
           (0.0104, 18), (0.0108, 23), (0.0112, 20), (0.0116, 22), (0.012, 17), (0.0124, 24), (0.0128, 19),
           (0.0132, 21), (0.0136, 18), (0.014, 20), (0.0144, 14), (0.0144, 22), (0.0148, 19), (0.0152, 21),
           (0.0156, 18), (0.016, 20), (0.0164, 19), (0.0168, 21), (0.0172, 18), (0.0176, 20), (0.018, 22),
           (0.0184, 19), (0.0188, 21), (0.0194, 24), (0.0198, 18), (0.0204, 20), (0.021, 22), (0.0216, 19),
           (0.0222, 21), (0.0222, 14), (0.0228, 18), (0.0234, 20), (0.0242, 19), (0.0248, 24), (0.0248, 21),
           (0.0265, 18), (0.0286, 19), (0.03, 21), (0.0305, 19), (0.0325, 18), (0.0359, 17), (0.0365, 18),
           (0.0375, 19), (0.0433, 19)]
f_purple_zero_x = [0, 0.0006, 0.0012, 0.0018, 0.0024, 0.003, 0.0036, 0.0042, 0.0048, 0.0054, 0.006, 0.0066,
                   0.0072, 0.0078, 0.0084, 0.009, 0.0096, 0.0102, 0.0108, 0.0114, 0.012, 0.0126, 0.0132,
                   0.0138, 0.0144, 0.015, 0.0156, 0.0162, 0.0168, 0.0174, 0.018, 0.0186, 0.0192, 0.0198,
                   0.0204, 0.021, 0.0216, 0.0222, 0.0228, 0.0234, 0.024, 0.0246, 0.0252, 0.0258, 0.0264, 0.027,
                   0.0276, 0.0282, 0.0288, 0.0294, 0.03, 0.0306, 0.0312, 0.0318, 0.0324, 0.033, 0.0336, 0.0342,
                   0.0348, 0.0362, 0.0378, 0.039, 0.0402, 0.0415, 0.0434, 0.046, 0.0509, 0.0553, 0.0593]
f_purple = [(0.0002, 3), (0.0006, 1.5), (0.001, 4), (0.0014, 2.5), (0.0018, 1.5), (0.0022, 3.5), (0.0026, 6),
            (0.0026, 2), (0.003, 4), (0.0034, 1.5), (0.0039, 7), (0.0038, 3), (0.0042, 2), (0.0046, 4),
            (0.005, 1.5), (0.0054, 3), (0.0058, 2), (0.0062, 4), (0.0066, 1.5), (0.007, 3), (0.0072, 6),
            (0.0074, 2), (0.0078, 4), (0.0082, 1.5), (0.0086, 3), (0.009, 2), (0.0094, 4), (0.0099, 10),
            (0.0098, 1.5), (0.0102, 3), (0.0106, 2), (0.011, 4), (0.0114, 1.5), (0.0118, 3), (0.0122, 2),
            (0.0126, 4), (0.013, 1.5), (0.0134, 3), (0.0138, 2), (0.0142, 4), (0.0146, 1.5), (0.015, 3),
            (0.0154, 2), (0.0158, 3.5), (0.0162, 1.5), (0.0166, 3), (0.017, 2), (0.0174, 3), (0.0178, 1.5),
            (0.0183, 10), (0.0182, 3), (0.0186, 2), (0.019, 3), (0.0195, 1.5), (0.02, 3), (0.0205, 2),
            (0.021, 3), (0.0215, 1.5), (0.022, 2.5), (0.0228, 2), (0.0236, 3), (0.0244, 2), (0.0248, 3),
            (0.0262, 3), (0.028, 3), (0.0289, 3), (0.0309, 3), (0.0323, 3)]

# ---------------- (g) Wind Speed ----------------
g_yellow_top_x = [1.5, 1.7, 1.9, 2.3, 2.5, 2.7, 2.9, 3.1, 3.3, 3.5, 3.7, 3.9, 4.1, 4.3, 4.5, 4.7, 4.9, 5.1,
                  5.3, 5.5, 5.7, 5.9, 6.1, 6.3, 6.5, 6.7, 6.9, 7.1, 7.3, 7.5, 7.7, 7.9, 8.1, 8.3, 8.5, 8.7,
                  8.9, 9.1, 9.3, 9.5, 9.7, 9.9, 10.1, 10.3, 10.5, 10.7, 10.9, 11.1, 11.3, 11.5, 11.7, 11.9,
                  12.1, 12.3, 12.5, 12.7, 12.9, 13.1, 13.3, 13.5, 13.7, 13.9, 14.1, 14.3, 14.5, 14.7, 14.9,
                  15.1, 15.3, 15.7, 16.0, 16.2]
g_band_x = [4.5, 4.7, 4.9, 5.1, 5.3, 5.5, 5.7, 5.9, 6.1, 6.3, 6.5, 6.7, 6.9, 7.1, 7.3, 7.5, 7.7, 7.9, 8.1,
            8.3, 8.5, 8.7, 8.9, 9.1, 9.3, 9.5, 9.7, 9.9, 10.1, 10.3, 10.5, 10.7, 10.9, 11.1, 11.3, 11.5,
            11.7, 11.9, 12.1, 12.3, 12.5, 12.7]
g_yellow = [(2.7, 97), (3.2, 98), (3.5, 96), (3.9, 98), (4.2, 96), (4.5, 97.5), (4.8, 95.5), (5.1, 98),
            (5.4, 96), (5.7, 97.5), (6.0, 95.5), (6.3, 98), (6.6, 96), (6.9, 97.5), (7.2, 95.5), (7.5, 98),
            (7.8, 96), (8.1, 97.5), (8.4, 95.5), (8.7, 98), (9.0, 96), (9.3, 97.5), (9.6, 95.5), (9.9, 98),
            (10.2, 96), (10.5, 97.5), (10.8, 95.5), (11.1, 98), (11.4, 96), (11.7, 97.5), (12.0, 95.5),
            (12.3, 98), (12.6, 96), (12.9, 97.5), (13.2, 96), (13.6, 98), (14.0, 97), (15.0, 96)]
g_orange = [(1.5, 77), (1.8, 78), (2.0, 81), (2.2, 80), (2.4, 79), (2.9, 80), (3.1, 81), (3.3, 79), (3.5, 78),
            (3.8, 77), (4.0, 78), (4.1, 80), (4.3, 88), (4.3, 82), (4.5, 79), (4.7, 77), (4.9, 81), (5.0, 83),
            (5.1, 79), (5.3, 77), (5.5, 82), (5.6, 80), (5.8, 78), (6.0, 81), (6.1, 77), (6.2, 70), (6.3, 80),
            (6.5, 78), (6.6, 82), (6.8, 79), (7.0, 77), (7.1, 81), (7.3, 79), (7.4, 83), (7.5, 77), (7.7, 80),
            (7.8, 78), (8.0, 81), (8.1, 77), (8.3, 79), (8.4, 82), (8.6, 78), (8.7, 80), (8.9, 77), (9.0, 81),
            (9.2, 79), (9.3, 82), (9.4, 77), (9.6, 80), (9.7, 78), (9.9, 82), (10.0, 79), (10.1, 83),
            (10.3, 77), (10.4, 80), (10.5, 78), (10.7, 81), (11.0, 79), (11.2, 85), (11.3, 77), (11.5, 80),
            (11.7, 81), (11.9, 78), (12.0, 79), (12.3, 77), (12.6, 81), (12.7, 82), (12.8, 70), (12.9, 78),
            (13.0, 81), (13.3, 80), (13.4, 79), (14.3, 77), (14.9, 80), (15.1, 77), (15.3, 82), (4.6, 81),
            (5.2, 80.5), (5.9, 79), (6.4, 76.5), (7.2, 78), (7.9, 79.5), (8.5, 76.5), (9.1, 78), (9.8, 76.5),
            (10.2, 81), (10.9, 77.5), (12.6, 77)]
g_blue = [(3.2, 50), (3.4, 48), (3.8, 52), (4.1, 52), (4.3, 50), (4.6, 52), (4.8, 51), (5.0, 49), (5.2, 52),
          (5.4, 50), (5.6, 48), (5.8, 51), (6.0, 49), (6.2, 52), (6.3, 56), (6.4, 50), (6.6, 48), (6.8, 51),
          (7.0, 49), (7.2, 60), (7.2, 52), (7.4, 50), (7.6, 48), (7.8, 51), (8.0, 53), (8.2, 49), (8.4, 51),
          (8.6, 48), (8.8, 50), (9.0, 52), (9.2, 63), (9.2, 49), (9.4, 57), (9.4, 51), (9.6, 48), (9.8, 50),
          (10.0, 52), (10.1, 54), (10.2, 49), (10.4, 51), (10.6, 60), (10.6, 48), (10.8, 50), (11.0, 61),
          (11.0, 52), (11.1, 55), (11.2, 60), (11.2, 49), (11.4, 54), (11.4, 51), (11.6, 48), (11.7, 60),
          (11.8, 50), (12.0, 52), (12.2, 49), (12.4, 51), (12.6, 48), (12.8, 66), (12.8, 50), (13.0, 51),
          (13.2, 49), (13.4, 50), (13.6, 56), (13.8, 59), (13.7, 49), (14.0, 49), (14.3, 50), (15.0, 52),
          (15.5, 52), (16.7, 50), (17.0, 50), (6.9, 53), (8.5, 52), (9.9, 48), (10.9, 48)]
g_green = [(2.1, 18), (2.7, 18), (2.7, 20), (3.2, 19), (3.5, 19), (3.8, 18), (3.9, 21), (4.0, 22), (4.2, 20),
           (4.4, 19), (4.5, 18), (4.7, 24), (4.8, 20), (5.0, 19), (5.2, 21), (5.4, 18), (5.5, 14), (5.6, 24),
           (5.7, 20), (5.9, 19), (6.1, 21), (6.2, 24), (6.3, 18), (6.5, 20), (6.7, 19), (6.9, 21), (7.0, 18),
           (7.2, 20), (7.4, 19), (7.5, 24), (7.6, 21), (7.8, 18), (7.9, 25), (8.0, 20), (8.1, 19), (8.3, 14),
           (8.3, 21), (8.5, 18), (8.7, 25), (8.7, 20), (8.9, 19), (9.0, 24), (9.1, 21), (9.3, 18), (9.4, 24),
           (9.5, 20), (9.7, 19), (9.9, 21), (10.1, 18), (10.3, 20), (10.5, 25), (10.5, 19), (10.7, 21),
           (10.9, 24), (10.9, 18), (11.1, 20), (11.3, 19), (11.5, 21), (11.6, 25), (11.7, 18), (11.9, 20),
           (12.1, 24), (12.1, 19), (12.3, 21), (12.4, 25), (12.5, 14), (12.5, 18), (12.8, 23), (12.9, 25),
           (12.9, 18), (13.2, 19), (13.6, 19), (13.9, 21), (14.1, 19), (6.0, 17.5), (8.8, 17.5),
           (10.0, 17.5), (11.0, 21.5)]
g_purple_zero_x = [1.2, 1.6, 1.9, 2.1, 2.3, 2.5, 2.7, 2.9, 3.1, 3.3, 3.5, 3.7, 3.9, 4.1, 4.3, 4.5, 4.7, 4.9,
                   5.1, 5.3, 5.5, 5.7, 5.9, 6.1, 6.3, 6.5, 6.7, 6.9, 7.1, 7.3, 7.5, 7.7, 7.9, 8.1, 8.3, 8.5,
                   8.7, 8.9, 9.1, 9.3, 9.5, 9.7, 9.9, 10.1, 10.3, 10.5, 10.7, 10.9, 11.1, 11.3, 11.5, 11.7,
                   11.9, 12.1, 12.3, 12.5, 12.7, 12.9, 13.1, 13.3, 13.5, 13.7, 13.9, 14.1, 14.3, 14.5, 14.7,
                   14.9, 15.1, 15.3, 15.6, 16.0, 16.5, 16.6]
g_purple = [(3.2, 4), (3.9, 2), (4.2, 3), (4.5, 1.5), (4.7, 4), (5.0, 2), (5.2, 3), (5.4, 4), (5.6, 2), (5.8, 3),
            (6.0, 4), (6.2, 2), (6.4, 3), (6.6, 4), (6.8, 2), (7.0, 3), (7.2, 4), (7.4, 2), (7.6, 3), (7.7, 10),
            (7.8, 4), (8.0, 10), (8.0, 2), (8.2, 3), (8.4, 4), (8.6, 2), (8.8, 3), (9.0, 4), (9.2, 2), (9.4, 3),
            (9.5, 8), (9.6, 4), (9.8, 2), (10.0, 3), (10.2, 4), (10.4, 2), (10.6, 3), (10.8, 4), (11.0, 2),
            (11.1, 7), (11.2, 3), (11.4, 4), (11.6, 2), (11.8, 3), (12.0, 4), (12.2, 2), (12.4, 3), (12.6, 4),
            (12.8, 2), (13.0, 3), (13.2, 4), (13.4, 2), (13.6, 3), (13.8, 4), (14.0, 2), (14.5, 1.5), (15.5, 3)]

# ---------------- (h) Precipitation Probability ----------------
h_yellow_top_x = [0, 1, 2, 3, 4, 5, 6, 7, 8, 9, 10, 11, 12, 13, 14, 15, 16, 17, 18, 19, 20, 21, 22, 23, 24,
                  25, 26, 27, 28, 29, 30, 31, 32, 33, 34, 35, 36, 37, 38, 39, 40, 41, 42, 43, 44, 45, 46, 47,
                  48, 49, 50, 51, 52, 53, 54, 55, 56, 57, 58, 59, 60, 61, 62, 63, 64, 65, 66, 67, 68, 69, 70,
                  71, 72, 73, 74, 75, 76, 77, 78, 79, 81, 83, 85, 87, 89.5, 93.7]
h_band_x = [0.2, 1.0, 1.8, 2.6, 3.4, 4.2, 5.0, 5.8, 6.6, 7.4, 8.2, 9.0, 9.8, 10.6, 11.4, 12.2, 13.0, 13.8,
            14.6, 15.4, 16.2, 17.0, 17.8, 18.6, 19.4, 20.2, 21.0, 21.8, 22.6, 23.4, 24.2, 25.0, 25.8, 26.6,
            27.4, 28.2, 29.0, 29.8]
h_yellow = [(0.3, 95.5), (0.8, 97.5), (1.3, 96), (1.8, 98), (2.3, 95.5), (2.8, 97.5), (3.3, 96), (3.8, 98),
            (4.3, 95.5), (4.8, 97.5), (5.3, 96), (5.8, 98), (6.3, 95.5), (6.8, 97.5), (7.3, 96), (7.8, 98),
            (8.3, 95.5), (8.8, 97.5), (9.3, 96), (9.8, 98), (10.4, 95.5), (11.0, 97.5), (11.6, 96), (12.2, 98),
            (12.8, 95.5), (13.4, 97.5), (14.0, 96), (14.7, 98), (15.4, 96), (16.1, 97.5), (16.8, 96),
            (17.5, 98), (18.3, 96), (19.1, 97.5), (20.0, 96.5), (21.0, 98), (22.5, 97), (24.0, 98),
            (25.5, 96.5), (27.0, 98), (29.0, 97), (31.0, 98), (33.5, 97.5), (36.0, 98), (39.0, 97),
            (42.0, 98.5), (45.0, 97), (48.0, 98.5), (52.0, 97.5), (57.0, 98), (63.0, 98.5), (70.0, 98),
            (82.7, 96)]
h_orange = [(0.3, 79), (0.8, 70), (0.6, 82), (1.0, 77), (1.4, 80), (1.8, 78), (2.2, 83), (2.6, 77), (3.0, 81),
            (3.4, 79), (3.8, 76.5), (4.2, 82), (4.6, 78), (5.0, 80), (5.4, 77), (5.8, 83), (6.2, 79), (6.8, 70),
            (6.6, 76.5), (7.0, 81), (7.4, 78), (7.8, 80), (8.2, 77), (8.6, 82), (9.0, 79), (9.4, 76.5),
            (9.8, 81), (10.2, 78), (10.6, 80), (11.0, 77), (11.5, 88), (11.4, 82), (11.8, 79), (12.2, 76.5),
            (12.6, 81), (13.0, 78), (13.4, 80), (13.8, 77), (14.2, 82), (14.6, 79), (15.0, 76.5), (15.4, 81),
            (15.8, 78), (16.2, 80), (16.6, 77), (17.0, 82), (17.4, 79), (17.8, 76.5), (18.2, 81), (18.6, 78),
            (19.0, 80), (19.4, 77), (19.8, 82), (20.1, 85), (20.4, 79), (21.0, 76.5), (21.6, 81), (22.2, 78),
            (22.8, 80), (23.4, 77), (24.0, 82), (24.6, 79), (25.2, 76.5), (25.8, 81), (26.4, 78), (27.0, 80),
            (27.6, 77), (28.2, 82), (28.8, 79), (29.4, 77), (30.0, 81), (31.0, 78), (32.0, 80), (33.0, 81),
            (34.0, 79), (35.0, 82), (36.0, 80), (38.7, 78), (40.2, 78), (42.7, 77), (44.0, 80), (45.2, 81),
            (46.6, 83), (47.7, 82), (48.7, 81), (50.3, 80), (52.9, 76), (53.4, 79), (55.0, 80), (56.6, 78),
            (58.6, 80), (59.4, 82), (60.2, 81), (63.4, 82), (64.1, 80), (65.4, 78), (71.0, 77), (74.6, 80),
            (76.0, 79), (94.2, 78)]
h_blue = [(0.3, 50), (0.8, 59), (0.6, 52), (1.0, 48), (1.4, 51), (1.8, 49), (2.2, 53), (2.6, 48), (3.1, 59),
          (3.0, 51), (3.4, 49), (3.8, 52), (4.2, 48), (4.6, 50), (5.0, 53), (5.4, 49), (5.8, 51), (6.2, 48),
          (6.6, 52), (7.3, 60), (7.0, 50), (7.4, 48), (7.8, 51), (8.2, 49), (8.6, 52), (9.2, 57), (9.0, 48),
          (9.4, 50), (9.8, 53), (10.2, 49), (10.6, 51), (11.0, 48), (11.4, 52), (11.8, 50), (12.2, 49),
          (12.6, 51), (13.0, 48), (13.4, 52), (13.8, 50), (14.2, 49), (14.6, 51), (15.0, 48), (15.4, 52),
          (15.8, 50), (16.2, 66), (16.2, 49), (16.6, 51), (17.3, 56), (17.0, 48), (17.4, 52), (17.8, 50),
          (18.2, 49), (18.6, 51), (19.0, 48), (19.4, 52), (19.8, 50), (20.4, 49), (21.0, 51), (21.6, 48),
          (22.2, 50), (22.8, 52), (23.4, 49), (24.0, 51), (24.6, 48), (25.2, 50), (25.8, 53), (26.4, 49),
          (27.0, 51), (28.0, 50), (29.0, 49), (30.0, 51), (31.0, 48), (32.3, 60), (32.0, 50), (33.0, 52),
          (34.0, 49), (35.0, 51), (36.0, 48), (38.0, 52), (43.5, 50), (46.1, 51), (48.2, 49), (51.1, 52),
          (51.3, 60), (52.4, 48), (53.2, 51), (56.0, 50), (57.6, 49), (58.1, 61), (58.6, 48), (65.1, 52),
          (69.6, 51), (70.0, 50), (84.3, 52), (85.9, 51), (86.4, 49), (88.2, 50), (92.1, 49)]
h_green = [(0.1, 14), (0.3, 20), (0.6, 24), (1.0, 18), (1.4, 22), (1.9, 14), (1.8, 19), (2.2, 25), (2.6, 21),
           (3.0, 18), (3.4, 23), (3.8, 20), (4.2, 24), (4.6, 19), (5.0, 22), (5.4, 18), (5.8, 21), (6.2, 24),
           (6.6, 19), (7.0, 22), (7.4, 18), (7.8, 24), (8.2, 20), (8.6, 19), (9.0, 22), (9.4, 18), (9.8, 21),
           (10.2, 24), (10.6, 19), (11.0, 22), (11.4, 18), (11.8, 21), (12.2, 20), (12.6, 19), (13.0, 24),
           (13.4, 18), (13.8, 21), (14.2, 20), (14.6, 19), (15.0, 22), (15.4, 18), (15.8, 21), (16.2, 20),
           (16.6, 19), (17.3, 14), (17.0, 22), (17.4, 18), (17.8, 21), (18.2, 20), (18.6, 19), (19.0, 24),
           (19.4, 18), (19.8, 21), (20.4, 20), (21.0, 23), (21.6, 19), (22.2, 21), (22.8, 18), (23.4, 20),
           (24.0, 19), (24.6, 24), (25.2, 21), (25.8, 18), (26.4, 20), (27.0, 19), (27.6, 22), (28.2, 21),
           (28.8, 18), (29.4, 20), (30.0, 19), (31.0, 21), (32.0, 19), (33.0, 20), (34.0, 24), (35.0, 19),
           (36.0, 21), (37.0, 24), (38.0, 20), (39.2, 19), (40.2, 20), (41.9, 19), (43.5, 20), (46.6, 20),
           (48.2, 20), (49.4, 19), (52.9, 20), (53.4, 17), (54.5, 23), (56.0, 20), (58.1, 19), (62.6, 19),
           (65.4, 21), (68.9, 20), (69.9, 19), (74.1, 19), (75.2, 18), (76.6, 21), (78.5, 18), (79.6, 18)]
h_purple_zero_x = [0, 1, 2, 3, 4, 5, 6, 7, 8, 9, 10, 11, 12, 13, 14, 15, 16, 17, 18, 19, 20, 21, 22, 23, 24,
                   25, 26, 27, 28, 29, 30, 31, 32, 33, 34, 35, 36, 37, 38, 39, 40, 41, 42, 43, 44, 45, 46, 47,
                   48, 49, 50, 51, 52, 53, 54, 55, 56, 57, 58, 59, 60, 61, 62, 63, 64, 65, 66, 67, 68, 69, 70,
                   72.5, 74, 76, 78, 80, 83, 86, 88, 90, 93.5, 95]
h_purple = [(0.3, 2), (0.8, 7), (0.6, 4), (1.0, 1.5), (1.4, 3), (1.8, 4), (2.2, 2), (2.6, 8), (2.6, 3),
            (3.0, 4), (3.4, 1.5), (3.8, 3), (4.2, 4), (4.6, 2), (5.0, 3), (5.4, 4), (5.8, 1.5), (6.2, 3),
            (6.6, 4), (7.0, 2), (7.4, 3), (7.8, 4), (8.2, 1.5), (8.6, 3), (9.0, 4), (9.4, 2), (9.8, 3),
            (10.2, 4), (10.6, 1.5), (11.0, 3), (11.5, 2), (12.0, 3), (12.5, 4), (13.0, 2), (13.5, 3),
            (14.0, 1.5), (14.5, 3), (15.5, 10), (15.0, 2), (15.6, 3), (16.2, 2), (16.8, 3), (17.4, 2),
            (18.0, 3), (18.6, 2), (19.2, 3), (19.8, 4), (20.4, 2), (21.0, 3), (21.6, 4), (22.2, 2), (23.0, 7),
            (22.8, 3), (23.4, 2), (24.0, 3), (24.6, 2), (25.2, 3), (26.0, 2), (27.0, 3), (28.0, 2), (29.0, 3),
            (30.0, 3), (31.0, 3), (32.0, 3), (38.2, 4), (48.9, 4), (52.6, 4), (55.5, 10), (56.5, 3),
            (59.7, 2), (67.8, 4), (88.2, 3)]

# ---------------- drawing ----------------
STYLE = {
    'purple': dict(marker='s', ms=3.8, mfc=PURPLE, mec=PURPLE, mew=0),
    'green': dict(marker='s', ms=4.0, mfc='none', mec=GREEN, mew=0.9),
    'blue': dict(marker='s', ms=4.0, mfc=BLUE, mec=BLUE, mew=0),
    'orange': dict(marker='o', ms=4.6, mfc='none', mec=ORANGE, mew=0.9),
    'yellow': dict(marker='o', ms=3.8, mfc=YELLOW, mec=YELLOW, mew=0),
}
ORDER = ['purple', 'green', 'blue', 'orange', 'yellow']

FIG_W, FIG_H = 833, 1099
AX_W, AX_H = 318.5, 164
fig = plt.figure(figsize=(FIG_W / 100, FIG_H / 100), dpi=100)


def make_axes(px_left, px_top):
    return fig.add_axes([px_left / FIG_W, 1 - (px_top + AX_H) / FIG_H, AX_W / FIG_W, AX_H / FIG_H])


def pts(ax, pairs, name):
    ax.plot([p[0] for p in pairs], [p[1] for p in pairs], linestyle='none', clip_on=False, zorder=3,
            **STYLE[name])


def level(ax, xs, yval, name):
    ax.plot(xs, [yval] * len(xs), linestyle='none', clip_on=False, zorder=3, **STYLE[name])


def style_axes(ax, xlim, xticks, xticklabels, xlabel, ylabel):
    ax.set_xlim(*xlim)
    ax.set_ylim(0, 100)
    ax.set_xticks(xticks)
    ax.set_xticklabels(xticklabels)
    ax.set_yticks([0, 20, 40, 60, 80, 100])
    for s in ('top', 'right'):
        ax.spines[s].set_visible(False)
    for s in ('left', 'bottom'):
        ax.spines[s].set_linewidth(1.3)
        ax.spines[s].set_zorder(2)
    ax.tick_params(direction='in', length=3, width=0.8, labelsize=9, pad=6, colors='#111111')
    ax.set_xlabel(xlabel, fontsize=8.5)
    ax.set_ylabel(ylabel, fontsize=8.5)
    ax.xaxis.set_label_coords(0.5, -0.17)
    ax.yaxis.set_label_coords(-0.135, 0.5)


def panel(ax, purple_zero_x, band_x, series, yellow_top_x):
    level(ax, purple_zero_x, 0, 'purple')
    for name in ORDER:
        level(ax, band_x, BAND_Y[name], name)
        pts(ax, series[name], name)
    level(ax, yellow_top_x, 100, 'yellow')


LEFT, RIGHT = 65.5, 499.5
ROWS = [21, 295.7, 570.7, 845.3]
YL = 'Normalized Solar Output Ratio (%)'
XL = 'Sample Hour-long Periods'

ax = make_axes(LEFT, ROWS[0])
panel(ax, a_purple_zero_x, a_band_x, {'purple': a_purple, 'green': a_green, 'blue': a_blue,
                                      'orange': a_orange, 'yellow': a_yellow}, a_yellow_top_x)
style_axes(ax, (3, 10), range(3, 11), [str(v) for v in range(3, 11)], XL, YL)

ax = make_axes(RIGHT, ROWS[0])
panel(ax, b_purple_zero_x, b_band_x, {'purple': b_purple, 'green': b_green, 'blue': b_blue,
                                      'orange': b_orange, 'yellow': b_yellow}, b_yellow_top_x)
style_axes(ax, (875, 1885), [1000, 1200, 1400, 1600, 1800], ['1000', '1200', '1400', '1600', '1800'], XL, YL)

ax = make_axes(LEFT, ROWS[1])
col_w = 3.0
ax.vlines(c_cols, 0, c_purple_hi, color=PURPLE, lw=col_w, zorder=3, clip_on=False)
ax.vlines(c_cols, c_green_lo, c_green_hi, color=GREEN, lw=col_w, zorder=3)
ax.vlines(c_cols, c_blue_lo, c_blue_hi, color=BLUE, lw=col_w, zorder=3)
ax.vlines(c_cols, c_orange_lo, c_orange_hi, color=ORANGE, lw=col_w, zorder=3)
ax.vlines(c_cols, c_yellow_lo, 100, color=YELLOW, lw=col_w, zorder=3)
level(ax, c_cols, 0, 'purple')
pts(ax, list(zip(c_cols, c_green_hi)), 'green')
pts(ax, list(zip(c_cols, c_green_lo)), 'green')
pts(ax, list(zip(c_cols, c_blue_hi)), 'blue')
pts(ax, list(zip(c_cols, c_orange_hi)), 'orange')
pts(ax, list(zip(c_cols, c_orange_lo)), 'orange')
level(ax, c_cols, 100, 'yellow')
pts(ax, c_purple, 'purple')
pts(ax, c_green, 'green')
pts(ax, c_blue, 'blue')
pts(ax, c_orange, 'orange')
style_axes(ax, (0, 368), [0, 60, 120, 180, 240, 300, 360], ['0', '60', '120', '180', '240', '300', '360'], XL, YL)

ax = make_axes(RIGHT, ROWS[1])
panel(ax, d_purple_zero_x, d_band_x, {'purple': d_purple, 'green': d_green, 'blue': d_blue,
                                      'orange': d_orange, 'yellow': d_yellow}, d_yellow_top_x)
style_axes(ax, (10, 70), range(10, 71, 10), [str(v) for v in range(10, 71, 10)], XL, YL)

ax = make_axes(LEFT, ROWS[2])
panel(ax, e_purple_zero_x, e_band_x, {'purple': e_purple, 'green': e_green, 'blue': e_blue,
                                      'orange': e_orange, 'yellow': e_yellow}, e_yellow_top_x)
style_axes(ax, (10, 80), range(10, 81, 10), [str(v) for v in range(10, 81, 10)], XL, YL)

ax = make_axes(RIGHT, ROWS[2])
panel(ax, f_purple_zero_x, f_band_x, {'purple': f_purple, 'green': f_green, 'blue': f_blue,
                                      'orange': f_orange, 'yellow': f_yellow}, f_yellow_top_x)
style_axes(ax, (0, 0.06), [0, 0.01, 0.02, 0.03, 0.04, 0.05, 0.06],
           ['0', '0.01', '0.02', '0.03', '0.04', '0.05', '0.06'],
           'Precipitation Intensity(in)', 'Percentage Max (%)')

ax = make_axes(LEFT, ROWS[3])
panel(ax, g_purple_zero_x, g_band_x, {'purple': g_purple, 'green': g_green, 'blue': g_blue,
                                      'orange': g_orange, 'yellow': g_yellow}, g_yellow_top_x)
style_axes(ax, (0, 18), range(0, 19, 2), [str(v) for v in range(0, 19, 2)], XL, YL)

ax = make_axes(RIGHT, ROWS[3])
panel(ax, h_purple_zero_x, h_band_x, {'purple': h_purple, 'green': h_green, 'blue': h_blue,
                                      'orange': h_orange, 'yellow': h_yellow}, h_yellow_top_x)
style_axes(ax, (0, 100), range(0, 101, 10), [str(v) for v in range(0, 101, 10)], XL, YL)

captions = ['(a) Visibility', '(b) Pressure (in)', r'(c) Wind Bearing ($\!^\circ\!$)', '(d) Humidity',
            r'(e) Dewpoint ($\!^\circ\!$F)', '(f) Precipitation Intensity (in)', '(g) Wind Speed (mph)',
            '(h) Precipitation Probability']
for i, cap in enumerate(captions):
    cx = 206 if i % 2 == 0 else 636
    cy = ROWS[i // 2] + 237
    fig.text(cx / FIG_W, 1 - cy / FIG_H, cap, ha='center', va='center', fontsize=20.3, family='cmr10')

fig.savefig('out.png', dpi=100)
